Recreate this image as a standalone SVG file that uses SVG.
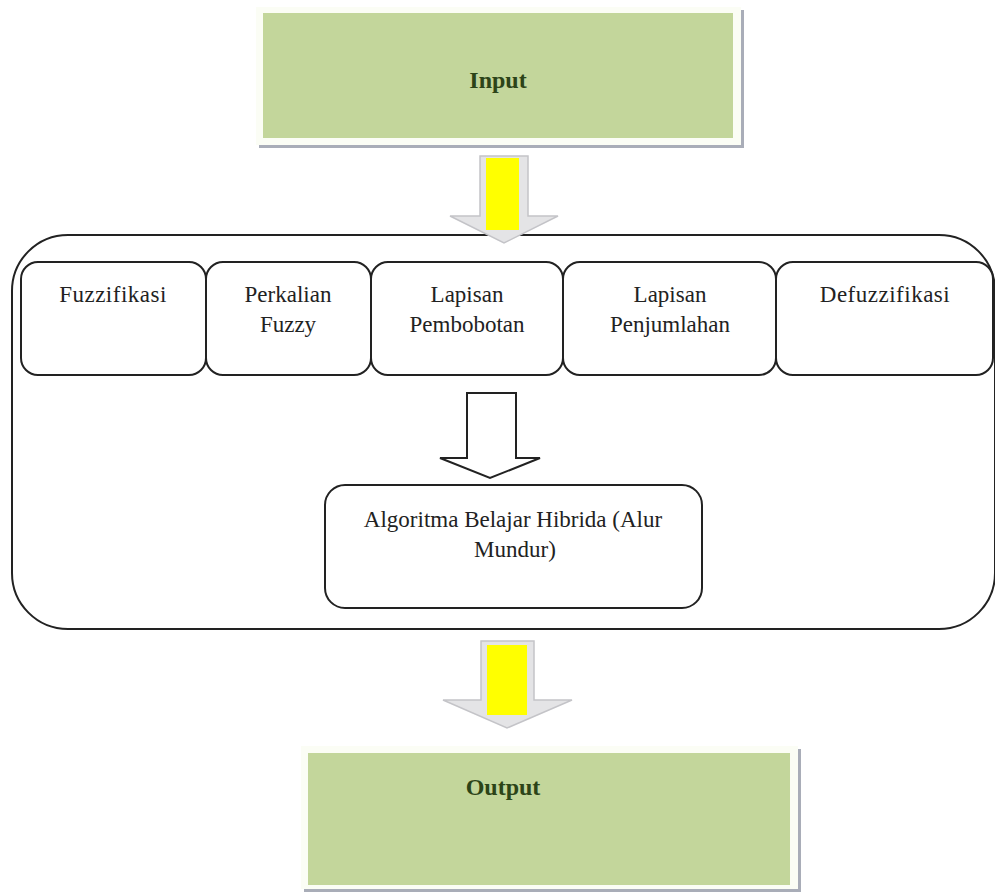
<svg xmlns="http://www.w3.org/2000/svg" width="995" height="894" viewBox="0 0 995 894">
<defs>
<style>
.frame{fill:#fbfdf5;stroke:none}
.shadow{fill:#a9adb8}
.green{fill:#c3d69b}
.gtxt{font-family:"Liberation Serif","Times New Roman",serif;font-size:24px;fill:#2c4418;text-anchor:middle;font-weight:bold}
.txt{font-family:"Liberation Serif","Times New Roman",serif;font-size:23px;fill:#222;text-anchor:middle}
.box{fill:#fff;stroke:#222;stroke-width:2}
.yarrow-out{fill:#e4e4e6;stroke:#c4c4c8;stroke-width:1.5}
.yarrow-in{fill:#ffff00}
</style>
</defs>
<rect width="995" height="894" fill="#ffffff"/>
<g id="input">
<rect class="shadow" x="259" y="10" width="485" height="138"/>
<rect class="frame" x="256" y="7" width="485" height="138"/>
<rect class="green" x="263" y="13" width="470" height="125"/>
<text class="gtxt" x="498" y="88">Input</text>
</g>
<g id="container">
<rect class="box" x="12" y="235" width="983" height="394" rx="56" ry="56"/>
</g>
<g id="fuzzifikasi">
<rect class="box" x="21" y="262" width="185" height="113" rx="17" ry="17"/>
<text class="txt" x="113" y="302" letter-spacing="0.5">Fuzzifikasi</text>
</g>
<g id="perkalian">
<rect class="box" x="206" y="262" width="165" height="113" rx="17" ry="17"/>
<text class="txt" x="288" y="302">Perkalian</text>
<text class="txt" x="288" y="332">Fuzzy</text>
</g>
<g id="pembobotan">
<rect class="box" x="371" y="262" width="192" height="113" rx="17" ry="17"/>
<text class="txt" x="467" y="302">Lapisan</text>
<text class="txt" x="467" y="332">Pembobotan</text>
</g>
<g id="penjumlahan">
<rect class="box" x="563" y="262" width="213" height="113" rx="17" ry="17"/>
<text class="txt" x="670" y="302">Lapisan</text>
<text class="txt" x="670" y="332">Penjumlahan</text>
</g>
<g id="defuzzifikasi">
<rect class="box" x="776" y="262" width="217" height="113" rx="17" ry="17"/>
<text class="txt" x="885" y="302" letter-spacing="0.5">Defuzzifikasi</text>
</g>
<g id="algoritma">
<rect class="box" x="325" y="485" width="377" height="123" rx="20" ry="20"/>
<text class="txt" x="513" y="527">Algoritma Belajar Hibrida (Alur</text>
<text class="txt" x="515" y="557">Mundur)</text>
</g>
<g id="output">
<rect class="shadow" x="304" y="749" width="497" height="143"/>
<rect class="frame" x="301" y="746" width="497" height="143"/>
<rect class="green" x="308" y="753" width="482" height="132"/>
<text class="gtxt" x="503" y="795">Output</text>
</g>
<g id="connectors">
<polygon class="yarrow-out" points="480,156 528,156 528,216 558,216 504,243 450,216 480,216"/>
<rect class="yarrow-in" x="486" y="158" width="33" height="72"/>
<polygon points="467,393 516,393 516,458 540,458 490,478 440,458 467,458" fill="#fff" stroke="#222" stroke-width="2"/>
<polygon class="yarrow-out" points="481,641 534,641 534,700 572,700 507,728 443,700 481,700"/>
<rect class="yarrow-in" x="487" y="645" width="40" height="70"/>
</g>
</svg>
